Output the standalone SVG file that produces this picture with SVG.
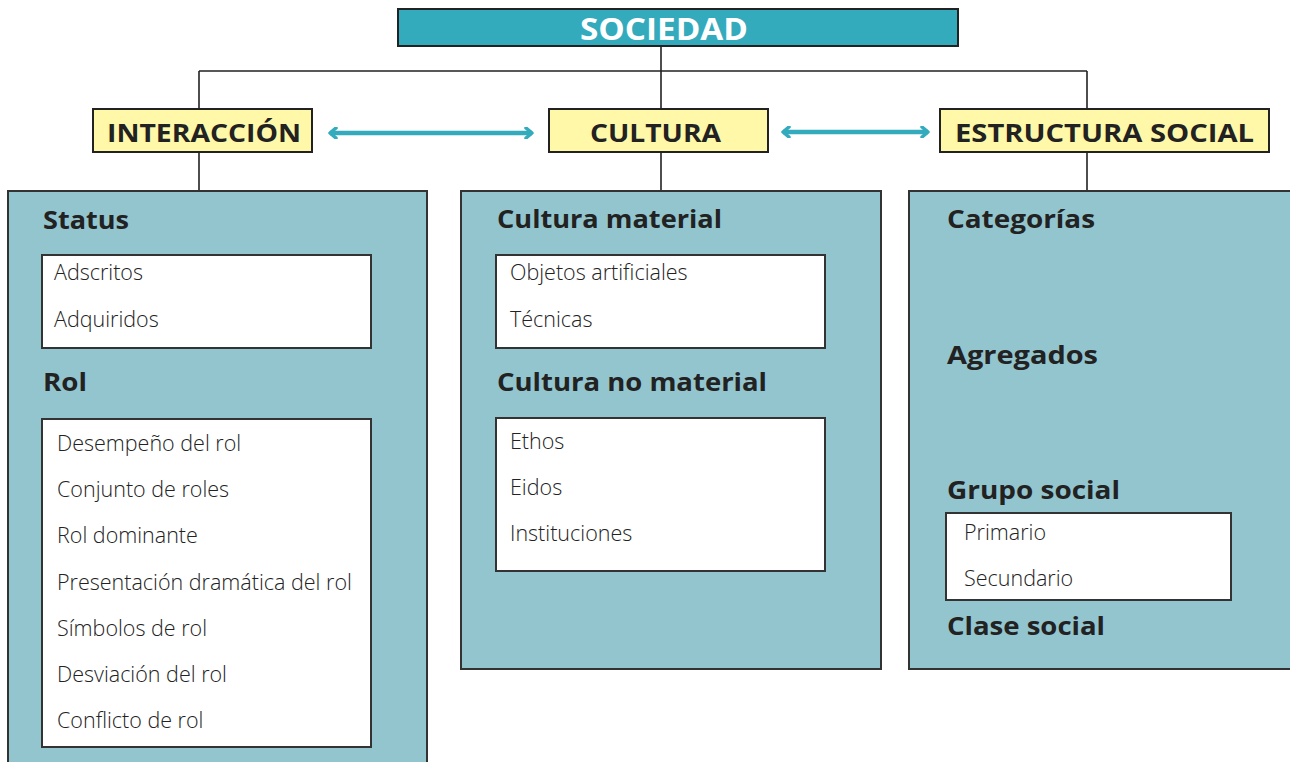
<svg xmlns="http://www.w3.org/2000/svg" width="1290" height="762" viewBox="0 0 1290 762">
<style>
.top{fill:#33abbd;stroke:#222;stroke-width:2}
.cat{fill:#fff8a8;stroke:#222;stroke-width:2}
.panel{fill:#93c5cf;stroke:#333;stroke-width:2}
.list{fill:#fff;stroke:#333;stroke-width:2}
.conn{stroke:#222;stroke-width:1.6;fill:none}
.arr{stroke:#33abbd;stroke-width:4.5;fill:none}
.t1{font-family:"Open Sans","Noto Sans",sans-serif;font-weight:700;font-size:30px;fill:#fff}
.t2{font-family:"Open Sans","Noto Sans",sans-serif;font-weight:700;font-size:25px;fill:#222}
.h{font-family:"Open Sans","Noto Sans",sans-serif;font-weight:700;font-size:25.5px;fill:#222}
.i{font-family:"Open Sans","Noto Sans",sans-serif;font-weight:300;font-size:21.5px;fill:#222}
</style>
<defs>
<marker id="ah" viewBox="0 0 10 12" refX="8" refY="6" markerWidth="10" markerHeight="12" markerUnits="userSpaceOnUse" orient="auto-start-reverse">
<path d="M2,1 L8,6 L2,11" fill="none" stroke="#33abbd" stroke-width="3.5" stroke-linecap="round" stroke-linejoin="round"/>
</marker>
</defs>
<g id="connectors">
<path class="conn" d="M661,46 V71 M199,71 H1087 M199,71 V109 M661,71 V109 M1087,71 V109"/>
<path class="conn" d="M199,152 V191 M661,152 V191 M1087,152 V191"/>
<line class="arr" x1="330" y1="133" x2="532" y2="133" marker-start="url(#ah)" marker-end="url(#ah)"/>
<line class="arr" x1="783" y1="132" x2="928" y2="132" marker-start="url(#ah)" marker-end="url(#ah)"/>
</g>
<g id="sociedad">
<rect class="top" x="398" y="9" width="560" height="37"/>
<text class="t1" x="580" y="40" textLength="168" lengthAdjust="spacingAndGlyphs">SOCIEDAD</text>
</g>
<g id="interaccion">
<rect class="cat" x="93" y="109" width="219" height="43"/>
<text class="t2" x="107" y="142" textLength="194" lengthAdjust="spacingAndGlyphs">INTERACCIÓN</text>
</g>
<g id="cultura">
<rect class="cat" x="549" y="109" width="219" height="43"/>
<text class="t2" x="590" y="142" textLength="131" lengthAdjust="spacingAndGlyphs">CULTURA</text>
</g>
<g id="estructura">
<rect class="cat" x="940" y="109" width="329" height="43"/>
<text class="t2" x="955" y="142" textLength="299" lengthAdjust="spacingAndGlyphs">ESTRUCTURA SOCIAL</text>
</g>
<g id="panel-interaccion">
<rect class="panel" x="8" y="191" width="419" height="580"/>
<text class="h" x="43" y="229" textLength="86" lengthAdjust="spacingAndGlyphs">Status</text>
<rect class="list" x="42" y="255" width="329" height="93"/>
<text class="i" x="54" y="280">Adscritos</text>
<text class="i" x="54" y="327">Adquiridos</text>
<text class="h" x="43" y="391" textLength="44" lengthAdjust="spacingAndGlyphs">Rol</text>
<rect class="list" x="42" y="419" width="329" height="328"/>
<text class="i" x="57" y="451">Desempeño del rol</text>
<text class="i" x="57" y="497">Conjunto de roles</text>
<text class="i" x="57" y="543">Rol dominante</text>
<text class="i" x="57" y="590">Presentación dramática del rol</text>
<text class="i" x="57" y="636">Símbolos de rol</text>
<text class="i" x="57" y="682">Desviación del rol</text>
<text class="i" x="57" y="728">Conflicto de rol</text>
</g>
<g id="panel-cultura">
<rect class="panel" x="461" y="191" width="420" height="478"/>
<text class="h" x="497" y="228" textLength="225" lengthAdjust="spacingAndGlyphs">Cultura material</text>
<rect class="list" x="496" y="255" width="329" height="93"/>
<text class="i" x="510" y="280">Objetos artificiales</text>
<text class="i" x="510" y="327">Técnicas</text>
<text class="h" x="497" y="391" textLength="270" lengthAdjust="spacingAndGlyphs">Cultura no material</text>
<rect class="list" x="496" y="418" width="329" height="153" stroke-width="2.5"/>
<text class="i" x="510" y="449">Ethos</text>
<text class="i" x="510" y="495">Eidos</text>
<text class="i" x="510" y="541">Instituciones</text>
</g>
<g id="panel-estructura">
<rect class="panel" x="909" y="191" width="400" height="478"/>
<text class="h" x="947" y="228" textLength="148" lengthAdjust="spacingAndGlyphs">Categorías</text>
<text class="h" x="947" y="364" textLength="151" lengthAdjust="spacingAndGlyphs">Agregados</text>
<text class="h" x="947" y="499" textLength="173" lengthAdjust="spacingAndGlyphs">Grupo social</text>
<rect class="list" x="946" y="513" width="285" height="87"/>
<text class="i" x="964" y="540">Primario</text>
<text class="i" x="964" y="586">Secundario</text>
<text class="h" x="947" y="635" textLength="158" lengthAdjust="spacingAndGlyphs">Clase social</text>
</g>
</svg>
